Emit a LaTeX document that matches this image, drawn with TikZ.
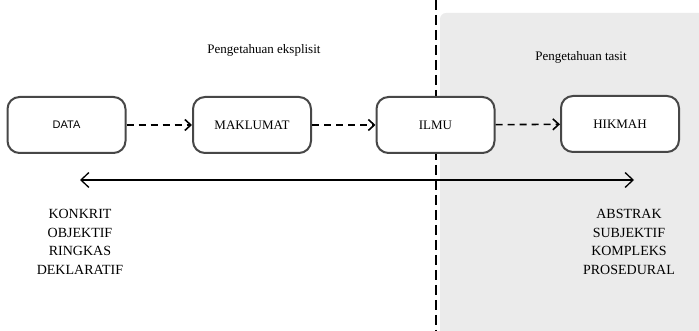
\documentclass[tikz,border=0pt]{standalone}
\usepackage{fontspec}
\setmainfont{Liberation Serif}
\setsansfont{Liberation Sans}
\usetikzlibrary{arrows.meta,positioning}

\tikzset{
  tahap/.style={draw=black!72,line width=2pt,rounded corners=12pt,fill=white,
    minimum width=118pt,minimum height=56pt,inner sep=0pt,font=\fontsize{13}{15}\selectfont},
  alir/.style={dashed,dash pattern=on 7pt off 5pt,line width=1.6pt,-{Straight Barb[length=6pt,width=11pt]}},
  senarai/.style={align=center,font=\fontsize{14}{18.5}\selectfont}
}

\begin{document}
\begin{tikzpicture}[x=1pt,y=1pt]
      \useasboundingbox (0,0) rectangle (699,331);

      % kawasan tasit
      \fill[black!8,rounded corners=6pt] (440,-5) |- (710,318) |- cycle;
      \draw[line width=2.6pt,dash pattern=on 10pt off 5pt] (436,331) -- (436,0);

      \node[tahap,font=\sffamily\fontsize{11}{13}\selectfont] (data) at (66.5,206) {DATA};
      \node[tahap] (maklumat) at (252,206) {MAKLUMAT};
      \node[tahap] (ilmu) at (435.5,206) {ILMU};
      \node[tahap] (hikmah) at (620,207) {HIKMAH};

      \draw[alir] (data) -- (maklumat);
      \draw[alir] (maklumat) -- (ilmu);
      \draw[alir] (ilmu) -- (hikmah);

      \coordinate (kiri) at (80,151);
      \coordinate (kanan) at (634,151);
      \draw[line width=1.3pt,{Straight Barb[length=8pt,width=15pt]}-{Straight Barb[length=8pt,width=15pt]}] (kiri) -- (kanan);

      \node[font=\fontsize{13}{15}\selectfont] (eksplisit) at (264,281) {Pengetahuan eksplisit};
      \node[font=\fontsize{13}{15}\selectfont] (tasit) at (581,274) {Pengetahuan tasit};

      \node[senarai] (konkrit) at (80,89) {KONKRIT\\OBJEKTIF\\RINGKAS\\DEKLARATIF};
      \node[senarai] (abstrak) at (629,89) {ABSTRAK\\SUBJEKTIF\\KOMPLEKS\\PROSEDURAL};
    \end{tikzpicture}
\end{document}
